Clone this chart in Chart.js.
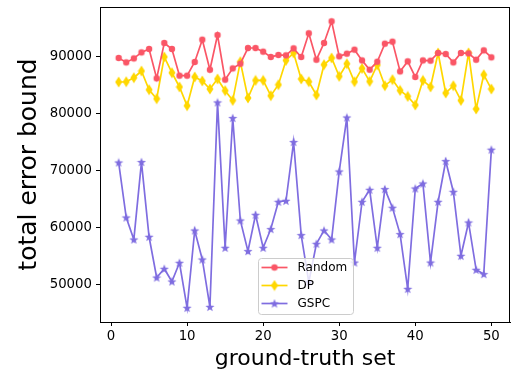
<!DOCTYPE html>
<html>
<head>
<meta charset="utf-8">
<script src="https://cdn.jsdelivr.net/npm/chart.js@4.4.1/dist/chart.umd.min.js"></script>
<style>
  html, body { margin: 0; padding: 0; background: #fff; }
</style>
</head>
<body>
<canvas id="chart" width="511" height="375"></canvas>
<script>
// ground-truth set index
const sets = [1, 2, 3, 4, 5, 6, 7, 8, 9, 10, 11, 12, 13, 14, 15, 16, 17, 18, 19, 20,
              21, 22, 23, 24, 25, 26, 27, 28, 29, 30, 31, 32, 33, 34, 35, 36, 37, 38, 39, 40,
              41, 42, 43, 44, 45, 46, 47, 48, 49, 50];

const randomVals = [89770, 89000, 89700, 90750, 91350, 86200, 92400, 91350, 86670, 86670,
                    89070, 92980, 87720, 93800, 85970, 87950, 88770, 91520, 91520, 90880,
                    89950, 90300, 90230, 91460, 89950, 94100, 89470, 92400, 96200, 90060,
                    90530, 91230, 89350, 87720, 89120, 92280, 92630, 87420, 89180, 86440,
                    89350, 89300, 90650, 90470, 89000, 90650, 90580, 89470, 91110, 89880];

const dpVals = [85560, 85610, 86310, 87490, 84210, 82630, 89950, 87190, 84690, 81400,
                86440, 85740, 84330, 86090, 84040, 82340, 89120, 82760, 85840, 85840,
                83160, 85090, 89350, 90650, 86090, 85610, 83280, 88600, 89770, 86550,
                88770, 85610, 87950, 85670, 88540, 84910, 85970, 84090, 83040, 81530,
                85840, 84690, 90650, 83630, 84910, 82340, 90650, 80830, 86840, 84330];

const gspcVals = [71460, 61810, 57960, 71530, 58430, 51290, 52820, 50590, 53870, 45980,
                  59540, 54450, 46150, 81990, 56500, 79250, 61290, 55920, 62290, 56500,
                  59780, 64570, 64740, 75040, 58720, 50500, 57200, 59540, 57960, 69880,
                  79350, 53920, 64570, 66670, 56500, 66790, 63520, 58900, 49300, 66900,
                  67780, 53920, 64570, 71700, 66320, 55100, 60940, 52640, 51890, 73700];

const xTicks = [0, 10, 20, 30, 40, 50];
const yTicks = [50000, 60000, 70000, 80000, 90000];

const RED = '#fa5666';
const GOLD = '#ffd700';
const PURPLE = '#7f6de0';
const FONT = "'DejaVu Sans', sans-serif";

// small canvases used as point markers (matplotlib style)
function makeMarker(kind, color) {
    const c = document.createElement('canvas');
    const w = kind === 'diamond' ? 8 : 10;
    const h = kind === 'diamond' ? 12 : 10;
    c.width = w;
    c.height = h;
    const g = c.getContext('2d');
    g.fillStyle = color;
    g.beginPath();
    if (kind === 'circle') {
        g.arc(5, 5, 3.2, 0, Math.PI * 2);
    } else if (kind === 'diamond') {
        g.moveTo(4, 0.5);
        g.lineTo(7.5, 6);
        g.lineTo(4, 11.5);
        g.lineTo(0.5, 6);
        g.closePath();
    } else {
        for (let i = 0; i < 10; i++) {
            const r = i % 2 === 0 ? 4.8 : 2.0;
            const a = -Math.PI / 2 + i * Math.PI / 5;
            const px = 5 + r * Math.cos(a);
            const py = 5.4 + r * Math.sin(a);
            if (i === 0) g.moveTo(px, py); else g.lineTo(px, py);
        }
        g.closePath();
    }
    g.fill();
    return c;
}

const markers = {
    random: makeMarker('circle', RED),
    dp: makeMarker('diamond', GOLD),
    gspc: makeMarker('star', PURPLE)
};

function series(vals) {
    return sets.map((s, i) => ({ x: s, y: vals[i] }));
}

const seriesInfo = [
    { label: 'Random', color: RED, marker: markers.random, vals: randomVals },
    { label: 'DP', color: GOLD, marker: markers.dp, vals: dpVals },
    { label: 'GSPC', color: PURPLE, marker: markers.gspc, vals: gspcVals }
];

// matplotlib-like frame around the axes
const framePlugin = {
    id: 'frame',
    afterDatasetsDraw(chart) {
        const { ctx, chartArea: a } = chart;
        ctx.save();
        ctx.strokeStyle = '#000';
        ctx.lineWidth = 1;
        ctx.strokeRect(Math.round(a.left) + 0.5, Math.round(a.top) + 0.5,
                       Math.round(a.right - a.left) - 1, Math.round(a.bottom - a.top));
        ctx.restore();
    }
};

// legend box inside the axes, lower middle
const boxLegend = {
    id: 'boxLegend',
    afterDraw(chart) {
        const { ctx, chartArea: a } = chart;
        const left = a.left + 158.5, top = a.top + 251.5, w = 95, h = 56;
        ctx.save();
        ctx.beginPath();
        ctx.roundRect(left, top, w, h, 3);
        ctx.fillStyle = 'rgba(255,255,255,0.8)';
        ctx.fill();
        ctx.strokeStyle = '#cccccc';
        ctx.lineWidth = 1;
        ctx.stroke();
        ctx.font = '12px ' + FONT;
        ctx.textBaseline = 'middle';
        ctx.textAlign = 'left';
        seriesInfo.forEach((s, i) => {
            const y = top + 9 + i * 18;
            ctx.strokeStyle = s.color;
            ctx.lineWidth = 1.7;
            ctx.beginPath();
            ctx.moveTo(left + 3, y);
            ctx.lineTo(left + 29, y);
            ctx.stroke();
            ctx.drawImage(s.marker, left + 16 - s.marker.width / 2, y - s.marker.height / 2);
            ctx.fillStyle = '#000';
            ctx.fillText(s.label, left + 39, y + 0.5);
        });
        ctx.restore();
    }
};

const ctx = document.getElementById('chart').getContext('2d');
new Chart(ctx, {
    type: 'line',
    data: {
        datasets: seriesInfo.map(s => ({
            label: s.label,
            data: series(s.vals),
            borderColor: s.color,
            backgroundColor: s.color,
            borderWidth: 1.7,
            pointStyle: s.marker,
            pointRadius: 4,
            tension: 0
        }))
    },
    options: {
        responsive: false,
        animation: false,
        devicePixelRatio: 1,
        layout: { autoPadding: false, padding: { top: 7, right: 1, left: 0, bottom: 0 } },
        plugins: {
            legend: { display: false },
            tooltip: { enabled: false }
        },
        scales: {
            x: {
                type: 'linear',
                min: -1.45,
                max: 52.45,
                afterBuildTicks: scale => { scale.ticks = xTicks.map(v => ({ value: v })); },
                afterFit: scale => {
                    scale.height = 53;
                    scale.paddingLeft = 0;
                    scale.paddingRight = 0;
                },
                grid: { drawOnChartArea: false, tickLength: 4, tickColor: '#000' },
                border: { color: '#000', width: 1 },
                ticks: {
                    color: '#000',
                    padding: 3,
                    maxRotation: 0,
                    font: { family: FONT, size: 13.3 }
                },
                title: {
                    display: true,
                    text: 'ground-truth set',
                    color: '#000',
                    font: { family: FONT, size: 22 },
                    padding: { top: 0, bottom: 3 }
                }
            },
            y: {
                min: 43490,
                max: 98710,
                afterBuildTicks: scale => { scale.ticks = yTicks.map(v => ({ value: v })); },
                afterFit: scale => {
                    scale.width = 100;
                    scale.paddingTop = 0;
                    scale.paddingBottom = 0;
                },
                grid: { drawOnChartArea: false, tickLength: 4, tickColor: '#000' },
                border: { color: '#000', width: 1 },
                ticks: {
                    color: '#000',
                    padding: 4,
                    font: { family: FONT, size: 13.3 },
                    callback: v => String(v)
                },
                title: {
                    display: true,
                    text: 'total error bound',
                    color: '#000',
                    font: { family: FONT, size: 25 },
                    padding: { top: 14, bottom: 0 }
                }
            }
        }
    },
    plugins: [framePlugin, boxLegend]
});
</script>
</body>
</html>
